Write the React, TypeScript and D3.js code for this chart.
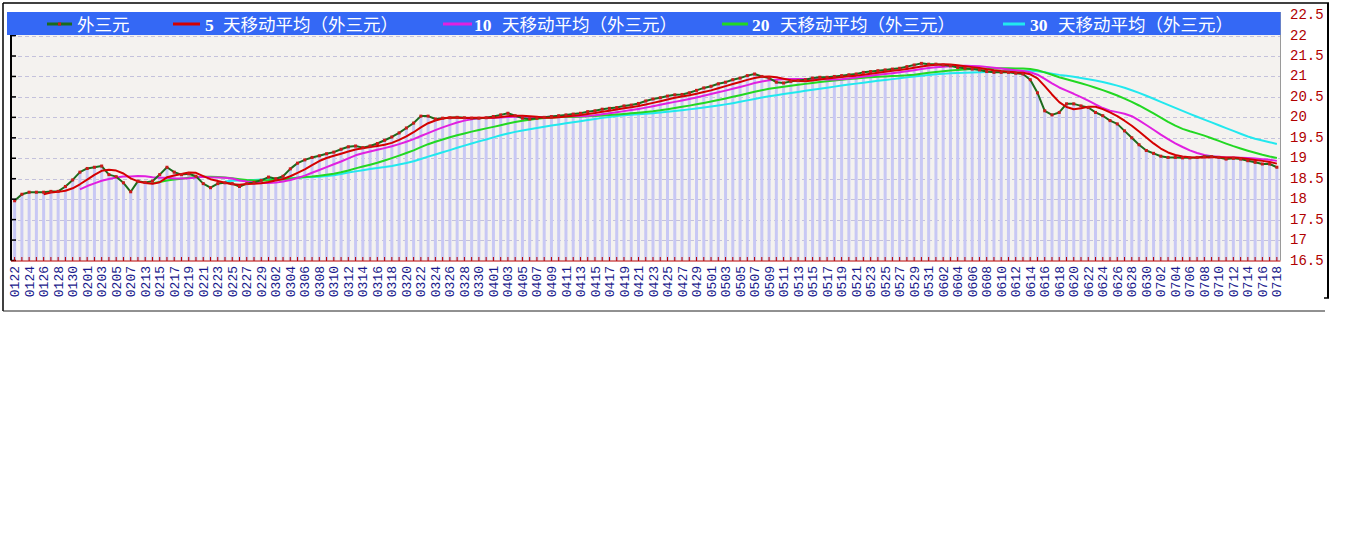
import React from 'react';
import * as d3 from 'd3';

const dates: string[] = [
  '0122','0123','0124','0125','0126','0127','0128','0129','0130','0131',
  '0201','0202','0203','0204','0205','0206','0207','0208',
  '0213','0214','0215','0216','0217','0218','0219','0220','0221','0222','0223','0224','0225','0226','0227','0228','0229',
  '0301','0302','0303','0304','0305','0306','0307','0308','0309','0310','0311','0312','0313','0314','0315','0316',
  '0317','0318','0319','0320','0321','0322','0323','0324','0325','0326','0327','0328','0329','0330','0331',
  '0401','0402','0403','0404','0405','0406','0407','0408','0409','0410','0411','0412','0413','0414','0415',
  '0416','0417','0418','0419','0420','0421','0422','0423','0424','0425','0426','0427','0428','0429','0430',
  '0501','0502','0503','0504','0505','0506','0507','0508','0509','0510','0511','0512','0513','0514','0515','0516',
  '0517','0518','0519','0520','0521','0522','0523','0524','0525','0526','0527','0528','0529','0530','0531',
  '0601','0602','0603','0604','0605','0606','0607','0608','0609','0610','0611','0612','0613','0614','0615',
  '0616','0617','0618','0619','0620','0621','0622','0623','0624','0625','0626','0627','0628','0629','0630',
  '0701','0702','0703','0704','0705','0706','0707','0708','0709','0710','0711','0712','0713','0714','0715',
  '0716','0717','0718'
];

const prices: number[] = [
  17.96, 18.12, 18.17, 18.17, 18.17, 18.19, 18.19, 18.31, 18.47, 18.66,
  18.75, 18.78, 18.81, 18.6, 18.55, 18.4, 18.18, 18.44, 18.41, 18.44,
  18.6, 18.78, 18.66, 18.6, 18.62, 18.56, 18.38, 18.28, 18.38, 18.4,
  18.38, 18.31, 18.38, 18.41, 18.46, 18.54, 18.5, 18.56, 18.74, 18.88,
  18.96, 19.02, 19.06, 19.11, 19.15, 19.22, 19.28, 19.3, 19.26, 19.3,
  19.36, 19.44, 19.52, 19.62, 19.74, 19.86, 20.03, 20.03, 19.96, 19.98,
  19.99, 20.0, 19.99, 19.98, 19.98, 19.99, 20.02, 20.06, 20.1, 20.04,
  19.98, 19.96, 19.98, 20.0, 20.02, 20.04, 20.06, 20.08, 20.1, 20.14,
  20.16, 20.2, 20.22, 20.24, 20.28, 20.3, 20.34, 20.4, 20.45, 20.48,
  20.52, 20.55, 20.56, 20.6, 20.66, 20.72, 20.76, 20.82, 20.86, 20.92,
  20.96, 21.02, 21.06, 21.0, 20.96, 20.86, 20.84, 20.88, 20.9, 20.92,
  20.96, 20.98, 20.98, 21.0, 21.02, 21.04, 21.06, 21.1, 21.12, 21.14,
  21.16, 21.18, 21.2, 21.24, 21.28, 21.32, 21.3, 21.3, 21.28, 21.26,
  21.22, 21.2, 21.18, 21.16, 21.12, 21.1, 21.1, 21.1, 21.08, 21.06,
  20.92, 20.6, 20.16, 20.06, 20.12, 20.33, 20.33, 20.28, 20.24, 20.12,
  20.04, 19.92, 19.84, 19.67, 19.5, 19.33, 19.19, 19.12, 19.05, 19.02,
  19.02, 19.01, 19.01, 19.02, 19.04, 19.04, 19.02, 18.98, 19.0, 18.98,
  18.94, 18.9, 18.86, 18.86, 18.78
];

const maPeriods: number[] = [5, 10, 20, 30];
const maColors: string[] = ['#d40000', '#e020e0', '#22d822', '#22e8ee'];
const mainColor = '#1c6b1c';

const yTicks: number[] = [16.5, 17, 17.5, 18, 18.5, 19, 19.5, 20, 20.5, 21, 21.5, 22, 22.5];
const yTickLabels: string[] = ['16.5', '17', '17.5', '18', '18.5', '19', '19.5', '20', '20.5', '21', '21.5', '22', '22.5'];

const legendNums: string[] = ['', '5', '10', '20', '30'];
const legendText: string[] = ['外三元', '天移动平均（外三元）', '天移动平均（外三元）', '天移动平均（外三元）', '天移动平均（外三元）'];
const legendLineX: [number, number][] = [[47, 72], [173, 200], [443, 472], [722, 748], [1003, 1025]];
const legendNumX: number[] = [0, 205, 474, 752, 1030];
const legendTextX: number[] = [77, 223, 502, 780, 1058];

function movingAverage(values: number[], n: number): ([number, number])[] {
  const out: [number, number][] = [];
  for (let i = n - 1; i < values.length; i++) {
    out.push([i, d3.mean(values.slice(i - n + 1, i + 1)) as number]);
  }
  return out;
}

export default function App() {
  const W = 1348, H = 541;
  const plotL = 11, plotR = 1280.5, plotB = 260.5, plotT = 35;
  const x = d3.scaleBand<string>().domain(dates).range([plotL, plotR]);
  const cx = (i: number) => (x(dates[i]) as number) + x.bandwidth() / 2;
  const y = d3.scaleLinear().domain([16.5, 22.5]).range([260.5, 15.1]);

  const line = d3.line<[number, number]>().x(d => cx(d[0])).y(d => y(d[1]));
  const mainPts: [number, number][] = prices.map((v, i) => [i, v]);
  const mas = maPeriods.map(n => movingAverage(prices, n));

  const cjk = "'Liberation Serif', 'Noto Sans CJK SC', serif";
  const mono = "'Liberation Mono', 'DejaVu Sans Mono', monospace";

  return (
    <svg width={W} height={H} style={{ position: 'absolute', left: 0, top: 0, background: '#fff' }}>
      <rect x={plotL} y={12} width={plotR - plotL} height={plotB - 12} fill="#f4f2ef" />

      {yTicks.filter(t => t > 16.5 && t < 22.5).map(t => (
        <line key={'g' + t} x1={plotL} x2={plotR} y1={Math.round(y(t)) + 0.5} y2={Math.round(y(t)) + 0.5}
          stroke="#c4c2dc" strokeWidth={1} strokeDasharray="4,3" />
      ))}

      {prices.map((v, i) => (
        <rect key={'b' + i} x={cx(i) - 1.5} y={y(v)} width={3} height={plotB - y(v)} fill="#c8c8f4" />
      ))}

      {[3, 2, 1].map(k => (
        <path key={'ma' + k} d={line(mas[k]) || ''} fill="none" stroke={maColors[k]} strokeWidth={2} strokeLinejoin="round" />
      ))}
      <path d={line(mainPts) || ''} fill="none" stroke={mainColor} strokeWidth={2} strokeLinejoin="round" />
      <path d={line(mas[0]) || ''} fill="none" stroke={maColors[0]} strokeWidth={2} strokeLinejoin="round" />
      {mainPts.map(p => (
        <rect key={'m' + p[0]} x={cx(p[0]) - 1.5} y={y(p[1]) - 1.5} width={3} height={3} fill="#cc1a1a" />
      ))}

      <line x1={plotR} x2={plotR} y1={12} y2={plotB} stroke="#9a9a9a" strokeWidth={1} />

      <line x1={plotL} x2={plotL} y1={plotT} y2={plotB} stroke="#000" strokeWidth={2} />
      {yTicks.filter(t => t < 22.5).map(t => (
        <line key={'lt' + t} x1={plotL} x2={plotL + 5} y1={y(t)} y2={y(t)} stroke="#000" strokeWidth={1.5} />
      ))}

      <line x1={plotL} x2={plotR} y1={261} y2={261} stroke="#b80000" strokeWidth={1.2} />
      {dates.map((d, i) => (
        <line key={'bt' + i} x1={cx(i)} x2={cx(i)} y1={257} y2={261} stroke="#b80000" strokeWidth={1} />
      ))}
      {dates.map((d, i) => i % 2 === 0 ? (
        <text key={'xl' + i} transform={`translate(${cx(i)},${266}) rotate(-90)`} textAnchor="end" dy="0.35em"
          fontFamily={mono} fontSize={13} fill="#1a1a8c">{d}</text>
      ) : null)}

      {yTicks.map((t, k) => (
        <text key={'yl' + t} x={1290} y={y(t)} dominantBaseline="central" fontFamily={mono} fontSize={14} fill="#b00000">{yTickLabels[k]}</text>
      ))}

      <rect x={7} y={12} width={plotR - 7} height={23} fill="#3468f5" />
      {legendText.map((t, k) => (
        <g key={'lg' + k}>
          <line x1={legendLineX[k][0]} x2={legendLineX[k][1]} y1={24} y2={24}
            stroke={k === 0 ? mainColor : maColors[k - 1]} strokeWidth={3} />
          {k === 0 ? <rect x={(legendLineX[k][0] + legendLineX[k][1]) / 2 - 1.5} y={22.5} width={3} height={3} fill="#cc1a1a" /> : null}
          {legendNums[k] ? (
            <text x={legendNumX[k]} y={24.5} dominantBaseline="central" fontFamily={cjk} fontSize={17.5} fontWeight={600} fill="#fff">{legendNums[k]}</text>
          ) : null}
          <text x={legendTextX[k]} y={24.5} dominantBaseline="central" fontFamily={cjk} fontSize={17.5} fill="#fff">{t}</text>
        </g>
      ))}

      <line x1={3} x2={1329} y1={3} y2={3} stroke="#000" strokeWidth={1.5} />
      <line x1={3} x2={3} y1={3} y2={311} stroke="#000" strokeWidth={1.5} />
      <line x1={3} x2={1325} y1={311} y2={311} stroke="#222" strokeWidth={1} />
      <line x1={1328} x2={1328} y1={3} y2={298} stroke="#000" strokeWidth={2} />
      <line x1={1324} x2={1329} y1={298} y2={298} stroke="#000" strokeWidth={1.5} />
    </svg>
  );
}
